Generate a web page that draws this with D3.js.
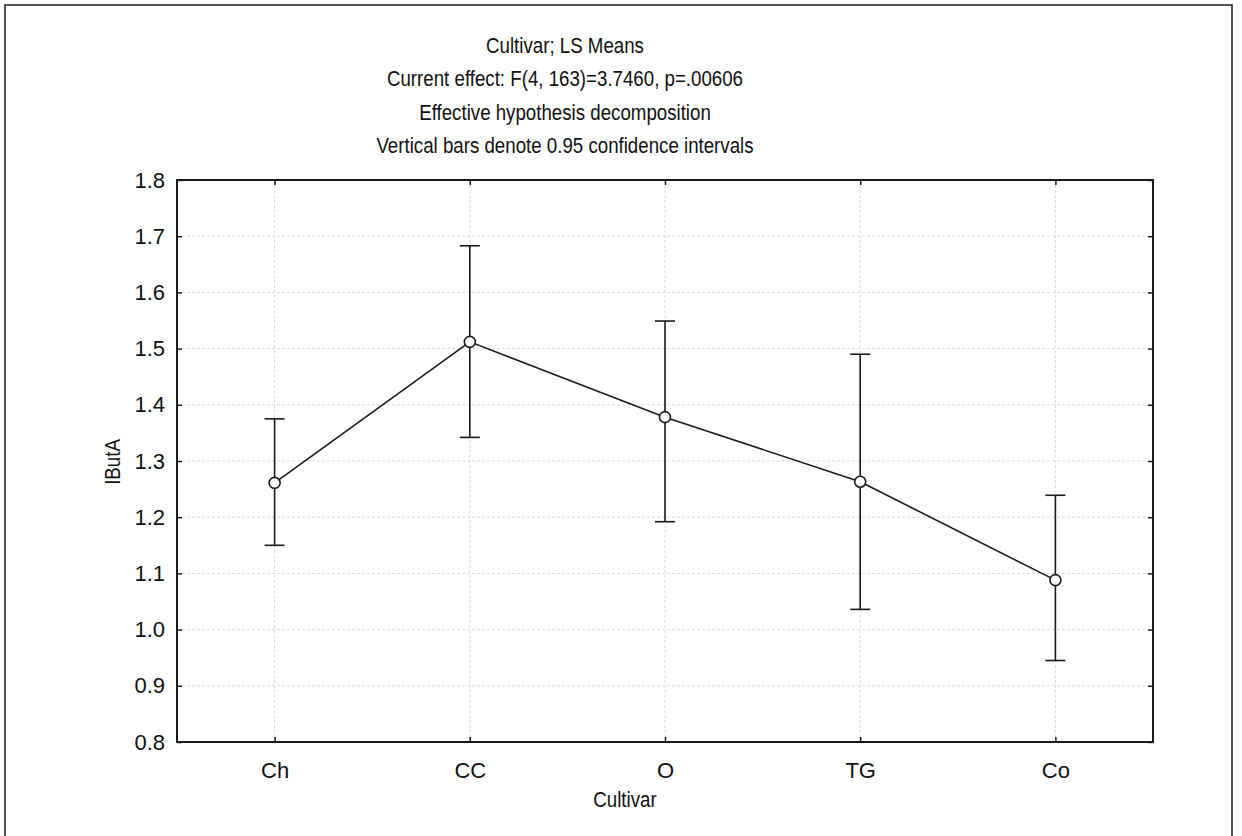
<!DOCTYPE html>
<html>
<head>
<meta charset="utf-8">
<script src="https://cdn.jsdelivr.net/npm/d3@7"></script>
<style>
  body { margin: 0; background: #fff; }
  text { font-family: "Liberation Sans", Arial, sans-serif; fill: #111; }
</style>
</head>
<body>
<svg></svg>
<script>
const width = 1242
const height = 836

// LS means of IButA per cultivar, with 0.95 confidence limits
const cultivars = ['Ch', 'CC', 'O', 'TG', 'Co']
const means = [1.261, 1.512, 1.378, 1.263, 1.088]
const upper = [1.375, 1.683, 1.549, 1.490, 1.239]
const lower = [1.150, 1.342, 1.192, 1.036, 0.945]
const yTicks = [0.8, 0.9, 1.0, 1.1, 1.2, 1.3, 1.4, 1.5, 1.6, 1.7, 1.8]
const titleLines = [
    'Cultivar; LS Means',
    'Current effect: F(4, 163)=3.7460, p=.00606',
    'Effective hypothesis decomposition',
    'Vertical bars denote 0.95 confidence intervals'
]

const margin = { left: 177, right: 1242 - 1153, top: 180, bottom: 836 - 742 }
const ink = '#1a1a1a'

const svg = d3.select('svg')
    .attr('width', width)
    .attr('height', height)

// outer frame
svg.append('rect')
    .attr('x', 5).attr('y', 5)
    .attr('width', 1227).attr('height', 850)
    .attr('fill', 'none')
    .attr('stroke', ink)
    .attr('stroke-width', 1.5)

const x = d3.scalePoint()
    .domain(cultivars)
    .range([margin.left, width - margin.right])
    .padding(0.5)

const y = d3.scaleLinear()
    .domain([0.8, 1.8])
    .range([height - margin.bottom, margin.top])

// grid
svg.append('g')
    .selectAll('line')
    .data(yTicks.slice(1, -1))
    .enter()
    .append('line')
    .attr('x1', margin.left).attr('x2', width - margin.right)
    .attr('y1', d => y(d)).attr('y2', d => y(d))
    .attr('stroke', '#dadada')
    .attr('stroke-dasharray', '3,2')

svg.append('g')
    .selectAll('line')
    .data(cultivars)
    .enter()
    .append('line')
    .attr('x1', d => x(d)).attr('x2', d => x(d))
    .attr('y1', margin.top).attr('y2', height - margin.bottom)
    .attr('stroke', '#dadada')
    .attr('stroke-dasharray', '3,2')

// axes, ticks pointing inward on all four sides
const styleAxis = g => {
    g.select('.domain').remove()
    g.selectAll('.tick line').attr('stroke', ink).attr('stroke-width', 1.5)
    g.selectAll('text').style('font-size', '22px').attr('fill', '#111')
}

svg.append('g')
    .attr('transform', `translate(${margin.left},0)`)
    .call(d3.axisLeft(y).tickValues(yTicks).tickFormat(d3.format('.1f')).tickSize(-5).tickPadding(12))
    .call(styleAxis)

svg.append('g')
    .attr('transform', `translate(${width - margin.right},0)`)
    .call(d3.axisRight(y).tickValues(yTicks).tickFormat('').tickSize(-5))
    .call(styleAxis)

svg.append('g')
    .attr('transform', `translate(0,${height - margin.bottom})`)
    .call(d3.axisBottom(x).tickSize(-5).tickPadding(20))
    .call(styleAxis)

svg.append('g')
    .attr('transform', `translate(0,${margin.top})`)
    .call(d3.axisTop(x).tickFormat('').tickSize(-5))
    .call(styleAxis)

svg.append('rect')
    .attr('x', margin.left).attr('y', margin.top)
    .attr('width', width - margin.left - margin.right)
    .attr('height', height - margin.top - margin.bottom)
    .attr('fill', 'none')
    .attr('stroke', ink)
    .attr('stroke-width', 2)

// error bars
const bars = svg.append('g')
    .selectAll('g')
    .data(cultivars)
    .enter()
    .append('g')
    .attr('stroke', ink)
    .attr('stroke-width', 1.6)

bars.append('line')
    .attr('x1', d => x(d)).attr('x2', d => x(d))
    .attr('y1', (d, i) => y(upper[i])).attr('y2', (d, i) => y(lower[i]))
bars.append('line')
    .attr('x1', d => x(d) - 10).attr('x2', d => x(d) + 10)
    .attr('y1', (d, i) => y(upper[i])).attr('y2', (d, i) => y(upper[i]))
bars.append('line')
    .attr('x1', d => x(d) - 10).attr('x2', d => x(d) + 10)
    .attr('y1', (d, i) => y(lower[i])).attr('y2', (d, i) => y(lower[i]))

// means line and markers
const line = d3.line()
    .x(d => x(d))
    .y((d, i) => y(means[i]))

svg.append('path')
    .datum(cultivars)
    .attr('d', line)
    .attr('fill', 'none')
    .attr('stroke', ink)
    .attr('stroke-width', 1.6)

svg.append('g')
    .selectAll('circle')
    .data(cultivars)
    .enter()
    .append('circle')
    .attr('cx', d => x(d))
    .attr('cy', (d, i) => y(means[i]))
    .attr('r', 5.5)
    .attr('fill', '#fff')
    .attr('stroke', ink)
    .attr('stroke-width', 1.6)

// titles
svg.append('g')
    .attr('transform', 'translate(565,0) scale(0.85,1)')
    .selectAll('text')
    .data(titleLines)
    .enter()
    .append('text')
    .attr('x', 0)
    .attr('y', (d, i) => 53 + i * 33.3)
    .attr('text-anchor', 'middle')
    .style('font-size', '22px')
    .text(d => d)

svg.append('text')
    .attr('transform', 'translate(625,807) scale(0.85,1)')
    .attr('text-anchor', 'middle')
    .style('font-size', '22px')
    .text('Cultivar')

svg.append('text')
    .attr('transform', 'translate(120,462) rotate(-90) scale(0.85,1)')
    .attr('text-anchor', 'middle')
    .style('font-size', '22px')
    .text('IButA')
</script>
</body>
</html>
